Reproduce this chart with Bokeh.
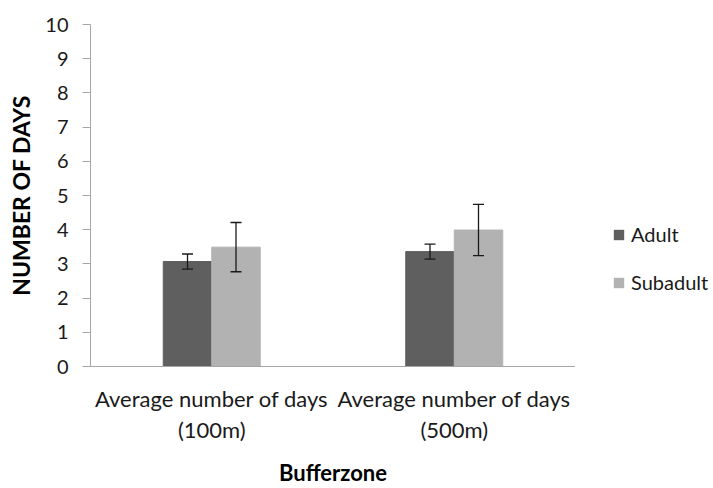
from bokeh.plotting import figure
from bokeh.layouts import row
from bokeh.models import ColumnDataSource, FactorRange, Range1d, Whisker, TeeHead, Legend, LegendItem, FixedTicker
from bokeh.transform import dodge
from bokeh.embed import file_html
from bokeh.resources import INLINE

categories = ["Average number of days\n(100m)", "Average number of days\n(500m)"]
series_names = ["Adult", "Subadult"]
adult = [3.07, 3.36]
adult_err = [0.22, 0.22]
subadult = [3.49, 3.99]
subadult_err = [0.72, 0.75]
y_ticks = list(range(0, 11))
colors = ["#5f5f5f", "#b2b2b2"]

src = ColumnDataSource(dict(
    cat=categories,
    adult=adult,
    subadult=subadult,
    a_up=[v + e for v, e in zip(adult, adult_err)],
    a_lo=[v - e for v, e in zip(adult, adult_err)],
    s_up=[v + e for v, e in zip(subadult, subadult_err)],
    s_lo=[v - e for v, e in zip(subadult, subadult_err)],
))

FONT = "Lato"

p = figure(width=575, height=488, x_range=FactorRange(*categories, range_padding=0),
           y_range=Range1d(0, 10), output_backend="svg", toolbar_location=None,
           min_border_left=90, min_border_right=0, min_border_top=24, min_border_bottom=120)
p.outline_line_color = None
p.xgrid.grid_line_color = None
p.ygrid.grid_line_color = None

p.vbar(x=dodge("cat", -0.1, range=p.x_range), top="adult", width=0.2, source=src,
       fill_color=colors[0], line_color=colors[0])
p.vbar(x=dodge("cat", 0.1, range=p.x_range), top="subadult", width=0.2, source=src,
       fill_color=colors[1], line_color=colors[1])

for xs, up, lo in [(-0.1, "a_up", "a_lo"), (0.1, "s_up", "s_lo")]:
    w = Whisker(base=dodge("cat", xs, range=p.x_range), upper=up, lower=lo, source=src,
                line_color="#1a1a1a", line_width=1.3, level="overlay",
                upper_head=TeeHead(size=11, line_color="#1a1a1a", line_width=1.3),
                lower_head=TeeHead(size=11, line_color="#1a1a1a", line_width=1.3))
    p.add_layout(w)

# y axis
p.yaxis.ticker = FixedTicker(ticks=y_ticks)
p.yaxis.axis_line_color = "#a6a6a6"
p.yaxis.major_tick_line_color = "#a6a6a6"
p.yaxis.major_tick_out = 8
p.yaxis.major_tick_in = 0
p.yaxis.minor_tick_line_color = None
p.yaxis.major_label_text_font = FONT
p.yaxis.major_label_text_font_size = "20px"
p.yaxis.major_label_text_color = "#1a1a1a"
p.yaxis.major_label_standoff = 14
p.yaxis.axis_label = "NUMBER OF DAYS"
p.yaxis.axis_label_text_font = FONT
p.yaxis.axis_label_text_font_size = "23px"
p.yaxis.axis_label_text_font_style = "bold"
p.yaxis.axis_label_text_color = "#000000"
p.yaxis.axis_label_standoff = 7

# x axis
p.xaxis.axis_line_color = "#a6a6a6"
p.xaxis.major_tick_line_color = None
p.xaxis.minor_tick_line_color = None
p.xaxis.major_label_text_font = FONT
p.xaxis.major_label_text_font_size = "22px"
p.xaxis.major_label_text_color = "#1a1a1a"
p.xaxis.major_label_standoff = 12
p.xaxis.major_label_text_line_height = 1.16
p.xaxis.axis_label = "Bufferzone"
p.xaxis.axis_label_text_font = FONT
p.xaxis.axis_label_text_font_size = "22px"
p.xaxis.axis_label_text_font_style = "bold"
p.xaxis.axis_label_text_color = "#000000"
p.xaxis.axis_label_standoff = 13

# legend panel (separate small figure so the legend is not clipped by the frame)
lp = figure(width=138, height=488, x_axis_type=None, y_axis_type=None,
            x_range=Range1d(0, 1), y_range=Range1d(0, 1),
            output_backend="svg", toolbar_location=None, min_border=0)
lp.outline_line_color = None
lp.xgrid.grid_line_color = None
lp.ygrid.grid_line_color = None
# zero-size proxy renderers, used only for the legend swatches
proxies = [lp.vbar(x=[0], top=[0], bottom=[0], width=0, fill_color=c, line_alpha=0)
           for c in colors]
legend = Legend(items=[LegendItem(label=n, renderers=[r]) for n, r in zip(series_names, proxies)],
                location=(37, 72), orientation="vertical",
                glyph_width=13, glyph_height=13, label_height=24, spacing=24,
                label_standoff=6, padding=0, margin=0,
                border_line_color=None, background_fill_alpha=0,
                label_text_font=FONT, label_text_font_size="20px", label_text_color="#1a1a1a")
lp.add_layout(legend, "center")

layout = row(p, lp, spacing=0)
open("out.html", "w").write(file_html(layout, INLINE))
